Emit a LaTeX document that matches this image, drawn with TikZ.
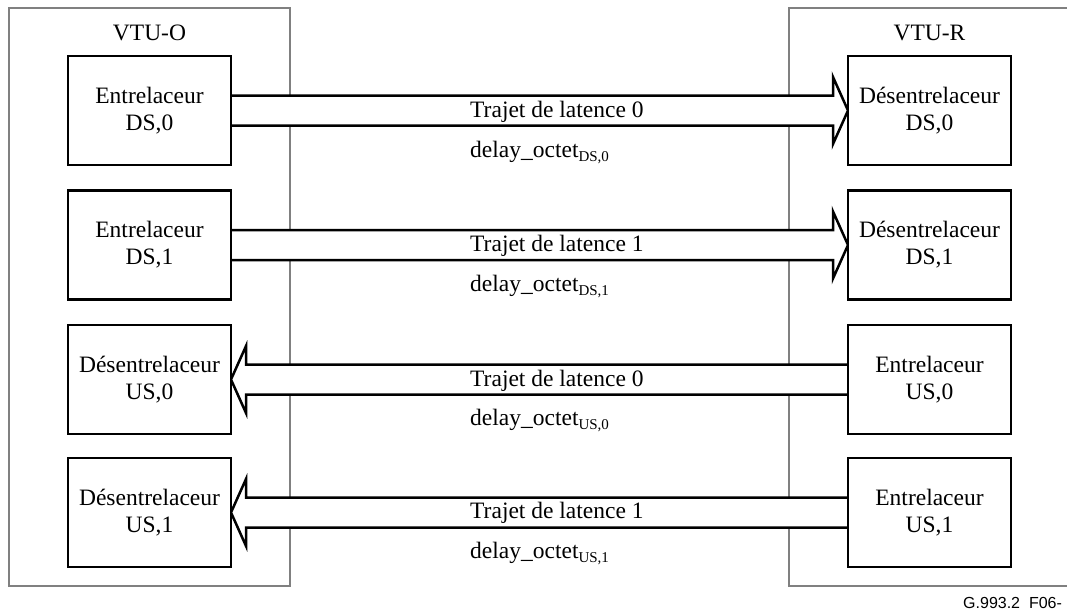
\documentclass[tikz,border=0pt]{standalone}
\usepackage{fontspec}
\setmainfont{Liberation Serif}
\newfontfamily\footfont{Liberation Sans}
\usetikzlibrary{calc,backgrounds}
\newcommand\subtxt[1]{\raisebox{-4pt}{\fontsize{15}{15}\selectfont #1}}
\begin{document}
\begin{tikzpicture}[x=1pt,y=-1pt,
  blk/.style={draw=black, line width=2.8pt, fill=white, minimum width=163pt, minimum height=109pt,
    inner sep=0pt, outer sep=0pt, align=center, font=\fontsize{23.5}{27}\selectfont},
  outerbox/.style={draw=black!50, line width=1.3pt},
  fat/.style={draw=black, line width=2.5pt, fill=white, line join=miter},
  lbl/.style={anchor=base west, inner sep=0pt, font=\fontsize{23.5}{27}\selectfont},
  ttl/.style={anchor=base, inner sep=0pt, font=\fontsize{23.5}{27}\selectfont}]
\useasboundingbox (0,0) rectangle (1067,610);

% titles
\node[ttl] (vo) at (149.5,41) {VTU-O};
\node[ttl] (vr) at (929.5,41) {VTU-R};

% blocks
\node[blk] (o1) at (149.5,110.5) {Entrelaceur\\DS,0};
\node[blk] (r1) at (929.5,110.5) {Désentrelaceur\\DS,0};
\node[blk] (o2) at (149.5,245) {Entrelaceur\\DS,1};
\node[blk] (r2) at (929.5,245) {Désentrelaceur\\DS,1};
\node[blk] (o3) at (149.5,379.5) {Désentrelaceur\\US,0};
\node[blk] (r3) at (929.5,379.5) {Entrelaceur\\US,0};
\node[blk] (o4) at (149.5,512.5) {Désentrelaceur\\US,1};
\node[blk] (r4) at (929.5,512.5) {Entrelaceur\\US,1};

\begin{pgfonlayer}{background}
  \fill[white] (0,0) rectangle (1067,610);
  \draw[outerbox] (9,8) rectangle (290,586);
  \draw[outerbox] (789,8) rectangle (1080,586);
  % downstream (right-pointing)
  \foreach \a/\b in {o1/r1,o2/r2}{
    \draw[fat] ($(\a.east)+(0,-15)$) -- ($(\b.west)+(-15,-15)$) -- ($(\b.west)+(-15,-33.5)$)
      -- (\b.west) -- ($(\b.west)+(-15,33.5)$) -- ($(\b.west)+(-15,15)$) -- ($(\a.east)+(0,15)$);
  }
  % upstream (left-pointing)
  \foreach \a/\b in {o3/r3,o4/r4}{
    \draw[fat] ($(\b.west)+(0,-15)$) -- ($(\a.east)+(15,-15)$) -- ($(\a.east)+(15,-33.5)$)
      -- (\a.east) -- ($(\a.east)+(15,33.5)$) -- ($(\a.east)+(15,15)$) -- ($(\b.west)+(0,15)$);
  }
\end{pgfonlayer}

% labels
\node[lbl] (t1) at (470,117) {Trajet de latence 0};
\node[lbl] (d1) at (470,157.5) {delay\_octet\subtxt{DS,0}};
\node[lbl] (t2) at (470,251.5) {Trajet de latence 1};
\node[lbl] (d2) at (470,291.5) {delay\_octet\subtxt{DS,1}};
\node[lbl] (t3) at (470,386) {Trajet de latence 0};
\node[lbl] (d3) at (470,425.5) {delay\_octet\subtxt{US,0}};
\node[lbl] (t4) at (470,518) {Trajet de latence 1};
\node[lbl] (d4) at (470,558) {delay\_octet\subtxt{US,1}};

% footer
\node[anchor=base west, inner sep=0pt, font=\footfont\fontsize{16}{16}\selectfont] (ft) at (963,608) {G.993.2\ \ F06-};
\end{tikzpicture}
\end{document}
